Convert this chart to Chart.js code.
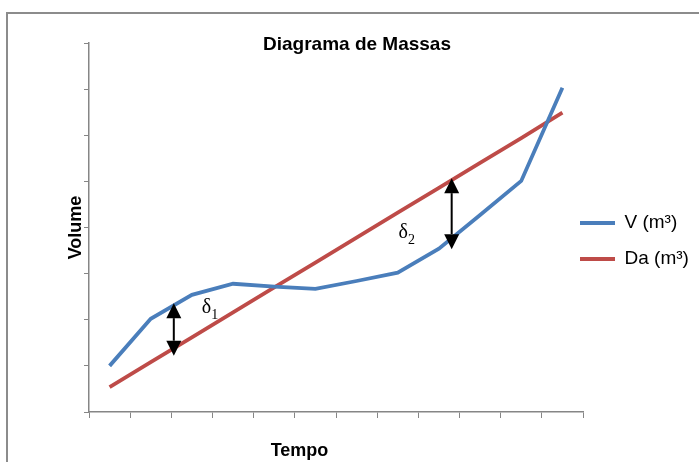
<!DOCTYPE html>
<html lang="pt">
<head>
  <meta charset="UTF-8">
  <title>Diagrama de Massas</title>
  <script src="https://cdn.jsdelivr.net/npm/chart.js"></script>
  <style>
    html, body { margin: 0; padding: 0; background: #fff; overflow: hidden; width: 699px; height: 462px; }
    /* moldura do gráfico (cortada à direita e em baixo, como no original) */
    .moldura { position: absolute; left: 6px; top: 12px; width: 800px; height: 600px;
               border-left: 2px solid #8c8c8c; border-top: 2px solid #8c8c8c; }
    #grafico { position: absolute; left: 0; top: 0; }
  </style>
</head>
<body>
  <div class="moldura"></div>
  <canvas id="grafico" width="699" height="462"></canvas>

  <script>
// Intervalos de tempo (sem rótulos no eixo)
const tempos = ['1', '2', '3', '4', '5', '6', '7', '8', '9', '10', '11', '12'];

// Volume acumulado V (m³)
const volumeV = [1.00, 2.02, 2.54, 2.78, 2.72, 2.67, 2.84, 3.02, 3.54, 4.27, 5.01, 7.03];

// Demanda acumulada Da (m³)
const demandaDa = [0.54, 1.08, 1.62, 2.16, 2.70, 3.24, 3.78, 4.32, 4.86, 5.40, 5.94, 6.49];

// Limites do eixo de volume (sem rótulos)
const volumeMin = 0;
const volumeMax = 8;

// Setas de diferença (em unidades dos eixos)
const setas = [
  { x: 1.56, topo: 2.36, base: 1.22 },
  { x: 8.31, topo: 5.07, base: 3.53 }
];
const deltas = [
  { x: 2.24, y: 2.15, indice: '1' },
  { x: 7.02, y: 3.77, indice: '2' }
];

const fonte = '"Liberation Sans", Arial, sans-serif';
const corEixo = '#868686';

// Título, rótulo "Tempo", setas e deltas
const anotacoes = {
  id: 'anotacoes',
  afterLayout(chart) {
    // encosta a legenda no fim do eixo, como no Excel
    chart.legend.left -= 20;
  },
  afterDatasetsDraw(chart) {
    const ctx = chart.ctx;
    const xs = chart.scales.x;
    const ys = chart.scales.y;
    ctx.save();
    ctx.fillStyle = '#000';
    ctx.strokeStyle = '#000';

    setas.forEach(s => {
      const px = xs.getPixelForValue(s.x);
      const y1 = ys.getPixelForValue(s.topo);
      const y2 = ys.getPixelForValue(s.base);
      const w = 7.5, h = 15;
      ctx.lineWidth = 2;
      ctx.beginPath();
      ctx.moveTo(px, y1 + h);
      ctx.lineTo(px, y2 - h);
      ctx.stroke();
      ctx.beginPath();
      ctx.moveTo(px, y1);
      ctx.lineTo(px - w, y1 + h);
      ctx.lineTo(px + w, y1 + h);
      ctx.closePath();
      ctx.fill();
      ctx.beginPath();
      ctx.moveTo(px, y2);
      ctx.lineTo(px - w, y2 - h);
      ctx.lineTo(px + w, y2 - h);
      ctx.closePath();
      ctx.fill();
    });

    deltas.forEach(d => {
      const px = xs.getPixelForValue(d.x);
      const py = ys.getPixelForValue(d.y);
      ctx.textAlign = 'left';
      ctx.textBaseline = 'alphabetic';
      ctx.font = '20px "Liberation Serif", "Times New Roman", serif';
      ctx.fillText('δ', px, py);
      const w = ctx.measureText('δ').width;
      ctx.font = '14px "Liberation Serif", "Times New Roman", serif';
      ctx.fillText(d.indice, px + w, py + 6);
    });

    ctx.textAlign = 'center';
    ctx.textBaseline = 'alphabetic';
    ctx.font = 'bold 19px ' + fonte;
    ctx.fillText('Diagrama de Massas', 357, 49.5);
    ctx.font = 'bold 18px ' + fonte;
    ctx.fillText('Tempo', 299.5, 456);
    ctx.restore();
  }
};

new Chart(document.getElementById('grafico'), {
  type: 'line',
  data: {
    labels: tempos,
    datasets: [
      {
        label: 'V (m³)',
        data: volumeV,
        borderColor: '#4a7ebb',
        backgroundColor: '#4a7ebb',
        borderWidth: 3.8,
        pointRadius: 0,
        tension: 0,
        fill: false
      },
      {
        label: 'Da (m³)',
        data: demandaDa,
        borderColor: '#be4b48',
        backgroundColor: '#be4b48',
        borderWidth: 3.8,
        pointRadius: 0,
        tension: 0,
        fill: false
      }
    ]
  },
  options: {
    responsive: false,
    animation: false,
    layout: { padding: { left: 60, top: 43, right: 0, bottom: 23 } },
    plugins: {
      title: { display: false },
      tooltip: { enabled: false },
      legend: {
        position: 'right',
        maxWidth: 116,
        labels: {
          usePointStyle: true,
          pointStyle: 'line',
          pointStyleWidth: 35,
          padding: 17,
          color: '#000',
          font: { family: fonte, size: 19 }
        }
      }
    },
    scales: {
      x: {
        offset: true,
        afterFit: (s) => { s.height = 27; },
        grid: { offset: true, drawOnChartArea: false, drawTicks: true, tickLength: 6, color: corEixo },
        border: { color: corEixo, width: 1.5 },
        ticks: { display: false }
      },
      y: {
        min: volumeMin,
        max: volumeMax,
        afterFit: (s) => { s.width = 29; },
        grid: { drawOnChartArea: false, drawTicks: true, tickLength: 5, color: corEixo },
        border: { color: corEixo, width: 1.5 },
        ticks: { display: false, stepSize: 1 },
        title: {
          display: true,
          text: 'Volume',
          color: '#000',
          font: { family: fonte, size: 18, weight: 'bold' },
          padding: { top: 5, bottom: 0 }
        }
      }
    }
  },
  plugins: [anotacoes]
});
  </script>
</body>
</html>
